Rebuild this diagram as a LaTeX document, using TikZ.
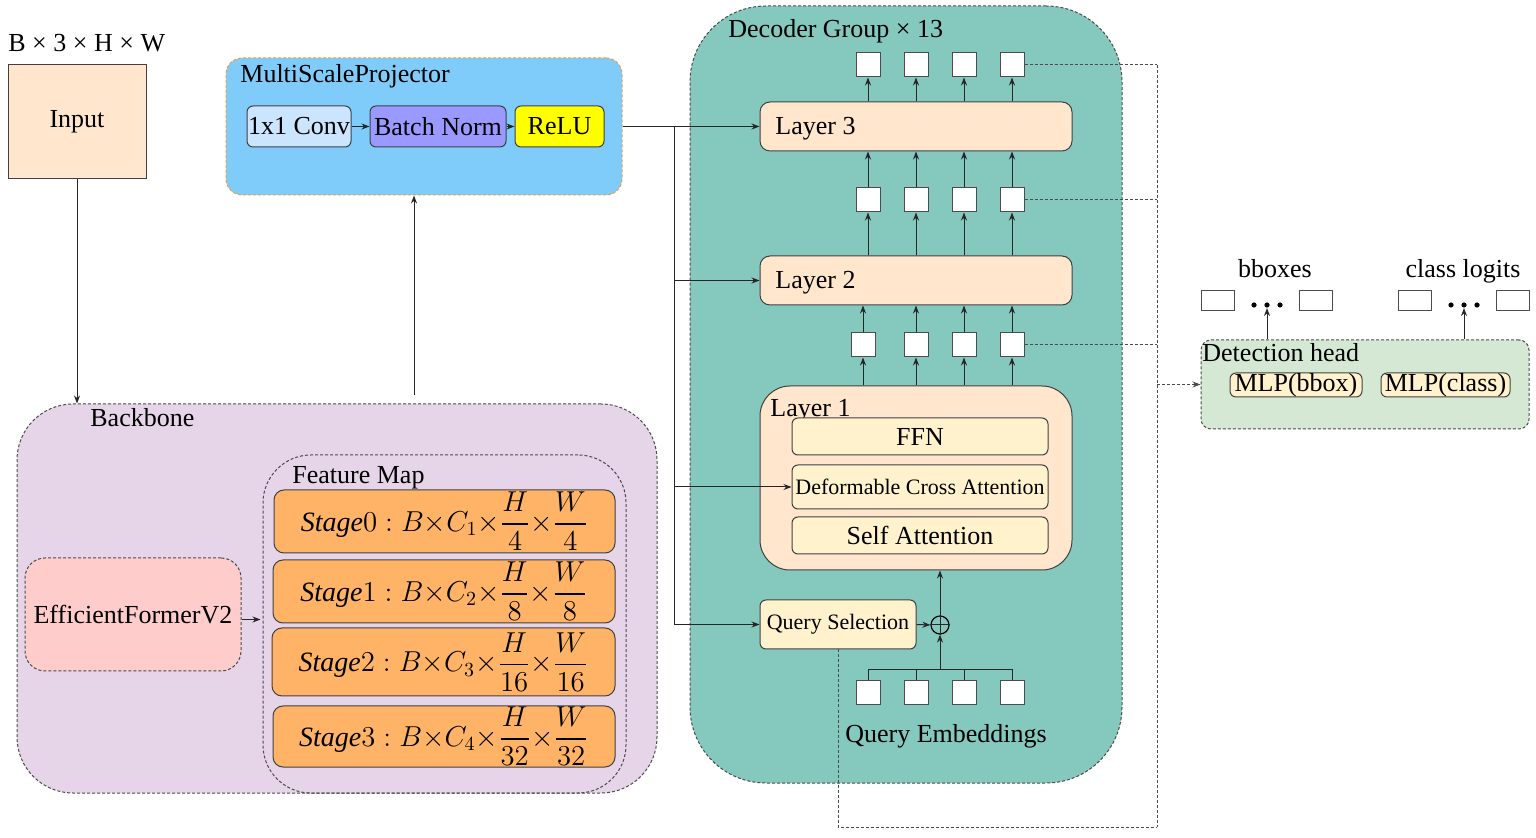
\documentclass[tikz,border=0pt]{standalone}
\usepackage{amsmath}
\usepackage{fontspec}
\setmainfont{Liberation Serif}
\usetikzlibrary{arrows.meta,fit,calc}
\definecolor{peach}{HTML}{FFE6CC}
\definecolor{mspblue}{HTML}{7FCBFA}
\definecolor{convblue}{HTML}{CCE5FF}
\definecolor{bnpurple}{HTML}{9999FF}
\definecolor{reluyellow}{HTML}{FFFF00}
\definecolor{bblav}{HTML}{E6D5E8}
\definecolor{effpink}{HTML}{FFCCCC}
\definecolor{stageorange}{HTML}{FFB366}
\definecolor{decteal}{HTML}{84C8BE}
\definecolor{inneryellow}{HTML}{FFF2CC}
\definecolor{dhgreen}{HTML}{D5E8D4}
\definecolor{mspborder}{HTML}{F0A040}
\begin{document}
\begin{tikzpicture}[x=0.5pt,y=-0.5pt,
  font=\fontsize{13}{15.6}\selectfont,
  >={Stealth[length=4pt,width=3pt]},
  box/.style={draw=black!75, line width=0.5pt, rounded corners=3pt, inner sep=0pt},
  grp/.style={draw=black!70, dash pattern={on 1.5pt off 1pt}, line width=0.5pt, inner sep=0pt},
  sq/.style={draw=black!70, line width=0.5pt, fill=white, minimum size=12pt, inner sep=0pt},
  orect/.style={draw=black!70, line width=0.5pt, fill=white, inner sep=0pt},
  conn/.style={draw=black!85, line width=0.5pt},
  dconn/.style={draw=black!70, dash pattern={on 1.5pt off 1pt}, line width=0.5pt},
  txt/.style={label={[inner sep=0pt]center:{#1}}},
  smalltxt/.style={label={[inner sep=0pt,font=\fontsize{11}{13}\selectfont]center:{#1}}},
  stagetxt/.style={label={[inner sep=0pt,font=\fontsize{14}{17}\selectfont]center:{#1}}},
  stagebox/.style={box, fill=stageorange, rounded corners=5pt},
  inner/.style={box, fill=inneryellow},
]
\useasboundingbox (0,0) rectangle (1536,838);

% ---------- groups ----------
\node[grp, fill=bblav, rounded corners=28pt, fit={(17,404)(657,793)}] (bb) {};
\node[grp, rounded corners=24pt, fit={(263,455)(626,793)}] (fm) {};
\node[grp, draw=mspborder, fill=mspblue, rounded corners=8pt, fit={(226,58)(622,195)}] (msp) {};
\node[grp, fill=decteal, rounded corners=38pt, fit={(690,6)(1122,783)}] (dec) {};
\node[grp, fill=dhgreen, rounded corners=5pt, fit={(1201,340)(1529,429)}] (dh) {};

% ---------- group labels ----------
\node[anchor=base west, inner sep=0pt] (lblmsp) at (240,83) {MultiScaleProjector};
\node[anchor=base west, inner sep=0pt] (lblbb) at (90,427) {Backbone};
\node[anchor=base west, inner sep=0pt] (lblfm) at (292,484) {Feature Map};
\node[anchor=base west, inner sep=0pt] (lbldec) at (728,38) {Decoder Group × 13};
\node[anchor=base west, inner sep=0pt] (lbldh) at (1202,362) {Detection head};

% ---------- input ----------
\node[anchor=base west, inner sep=0pt] (dims) at (8,52) {B × 3 × H × W};
\node[box, rounded corners=0pt, fill=peach, fit={(8,65)(146,179)}, txt={Input}] (input) {};

% ---------- MultiScaleProjector ----------
\node[box, fill=convblue, fit={(247,106)(351,147)}, txt={1x1 Conv}] (conv) {};
\node[box, fill=bnpurple, fit={(370,106)(506,147)}, txt={Batch Norm}] (bn) {};
\node[box, fill=reluyellow, fit={(515,106)(604,147)}, txt={ReLU}] (relu) {};
\draw[conn,->] (conv.east) -- (bn.west);
\draw[conn,->] (bn.east) -- (relu.west);

% ---------- Backbone ----------
\node[grp, fill=effpink, rounded corners=10pt, fit={(25,558)(241,671)}, txt={EfficientFormerV2}] (eff) {};
\node[stagebox, fit={(274,490)(615,553)}, stagetxt={$\mathit{Stage}0 : B{\times}C_1{\times}\dfrac{H}{4}{\times}\dfrac{W}{4}$}] (s0) {};
\node[stagebox, fit={(273,560)(615,623)}, stagetxt={$\mathit{Stage}1 : B{\times}C_2{\times}\dfrac{H}{8}{\times}\dfrac{W}{8}$}] (s1) {};
\node[stagebox, fit={(272,628)(615,696)}, stagetxt={$\mathit{Stage}2 : B{\times}C_3{\times}\dfrac{H}{16}{\times}\dfrac{W}{16}$}] (s2) {};
\node[stagebox, fit={(273,706)(615,767)}, stagetxt={$\mathit{Stage}3 : B{\times}C_4{\times}\dfrac{H}{32}{\times}\dfrac{W}{32}$}] (s3) {};
\draw[conn,->] ($(eff.east)+(0,5)$) -- ($(eff.east -| fm.west)+(-2,5)$);

% ---------- Decoder ----------
\node[box, fill=peach, rounded corners=5pt, fit={(760,102)(1072,151)}] (l3) {};
\node[anchor=west, inner sep=0pt] (l3t) at (775,129) {Layer 3};
\node[box, fill=peach, rounded corners=5pt, fit={(760,256)(1072,305)}] (l2) {};
\node[anchor=west, inner sep=0pt] (l2t) at (775,283) {Layer 2};
\node[box, fill=peach, rounded corners=15pt, fit={(760,386)(1072,570)}] (l1) {};
\node[anchor=base west, inner sep=0pt] (l1t) at (770,417) {Layer 1};
\node[inner, fit={(792,418)(1048,455)}, txt={FFN}] (ffn) {};
\node[inner, fit={(792,465)(1048,509)}, smalltxt={Deformable Cross Attention}] (dca) {};
\node[inner, fit={(792,517)(1048,554)}, txt={Self Attention}] (sa) {};
\node[inner, fit={(760,600)(916,649)}, smalltxt={Query Selection}] (qs) {};
\node[circle, draw=black, line width=0.6pt, minimum size=9pt, inner sep=0pt] (plus) at (940,625) {};
\draw[conn] (plus.north) -- (plus.south) (plus.west) -- (plus.east);

% query embeddings and token squares
\foreach \i/\x in {1/868,2/916,3/964,4/1012}{
  \node[sq] (q\i) at (\x,693) {};
  \node[sq] (b\i) at (\x,200) {};
  \node[sq] (c\i) at (\x,65) {};
}
\foreach \i/\x in {1/863,2/916,3/964,4/1012}{
  \node[sq] (a\i) at (\x,345) {};
}
\node[anchor=base, inner sep=0pt] (qet) at (946,742) {Query Embeddings};
\coordinate (bus) at (940,670);
\draw[conn] (q1.north) -- (q1.north |- bus) -- (q4.north |- bus) -- (q4.north);
\draw[conn] (q2.north) -- (q2.north |- bus);
\draw[conn] (q3.north) -- (q3.north |- bus);
\draw[conn,->] (bus) -- (plus.south);
\draw[conn,->] (plus.north) -- (plus.north |- l1.south);
\draw[conn,->] (qs.east) -- (plus.west);

\foreach \i in {1,2,3,4}{
  \draw[conn,->] (a\i |- l1.north) -- (a\i.south);
  \draw[conn,->] (a\i.north) -- (a\i |- l2.south);
  \draw[conn,->] (b\i |- l2.north) -- (b\i.south);
  \draw[conn,->] (b\i.north) -- (b\i |- l3.south);
  \draw[conn,->] (c\i |- l3.north) -- (c\i.south);
}

% feed lines
\draw[conn,->] (msp.east) -- (l3.west);
\coordinate (tk) at (674,127);
\draw[conn] (tk) -- (tk |- qs.west);
\draw[conn,->] (tk |- l2.west) -- (l2.west);
\draw[conn,->] (tk |- dca.west) -- (dca.west);
\draw[conn,->] (tk |- qs.west) -- (qs.west);

% input / backbone arrows
\draw[conn,->] (input.south) -- (input.south |- bb.north);
\coordinate (bbup) at (414,395);
\draw[conn,->] (bbup) -- (bbup |- msp.south);

% dashed outputs to detection head
\coordinate (rv) at (1157,827);
\draw[dconn] (c4.east) -- (c4.east -| rv);
\draw[dconn] (b4.east) -- (b4.east -| rv);
\draw[dconn] (a4.east) -- (a4.east -| rv);
\draw[dconn] (c4.east -| rv) -- (rv);
\draw[dconn] (qs.south -| 838,0) -- (838,827) -- (rv);
\draw[dconn,->] (dh.west -| rv) -- (dh.west);

% ---------- Detection head ----------
\node[inner, fit={(1230,373)(1362,397)}, txt={MLP(bbox)}] (mlpb) {};
\node[inner, fit={(1381,373)(1510,397)}, txt={MLP(class)}] (mlpc) {};

\node[orect, fit={(1201,291)(1234,311)}] (bo1) {};
\node[orect, fit={(1299,291)(1332,311)}] (bo2) {};
\node[orect, fit={(1398,291)(1431,311)}] (co1) {};
\node[orect, fit={(1496,291)(1529,311)}] (co2) {};
\node[anchor=base, inner sep=0pt] (bbt) at (1275,278) {bboxes};
\node[anchor=base, inner sep=0pt] (clt) at (1463,278) {class logits};
\foreach \x in {1254,1267,1280,1451,1464,1477}{ \fill[black] (\x,305) circle (1.3pt); }
\coordinate (bdot) at (1267,308);
\coordinate (cdot) at (1464,308);
\draw[conn,->] (bdot |- dh.north) -- (bdot);
\draw[conn,->] (cdot |- dh.north) -- (cdot);
\end{tikzpicture}
\end{document}
